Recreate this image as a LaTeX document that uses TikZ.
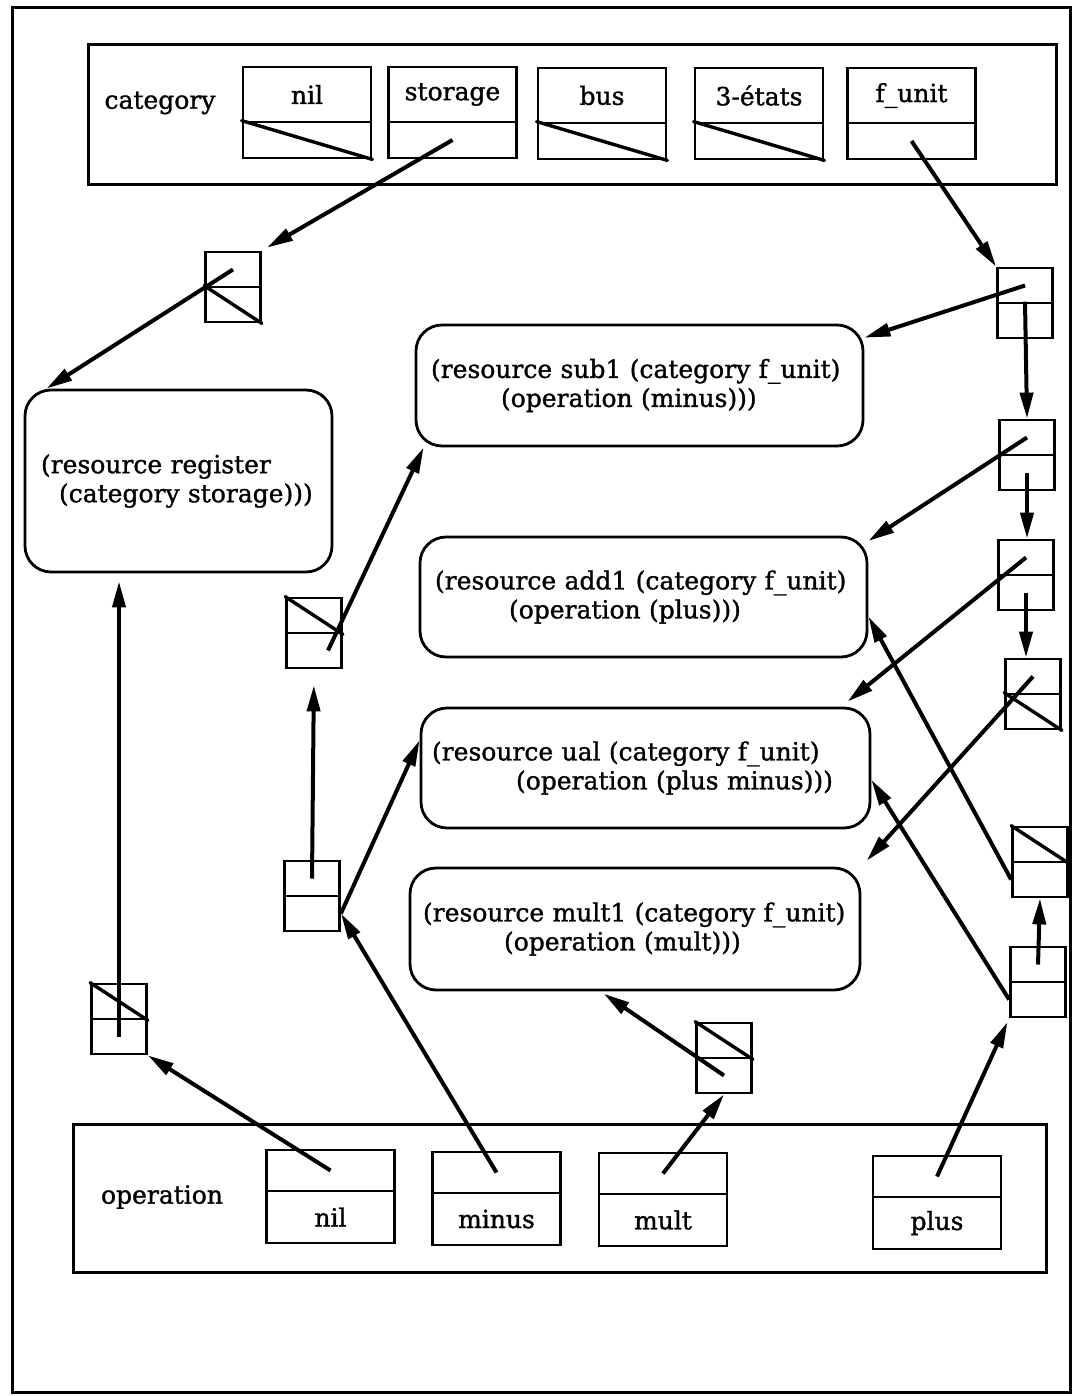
\documentclass[tikz,border=0pt]{standalone}
\usepackage{fontspec}
\setmainfont{DejaVu Serif}[BoldFont={DejaVu Serif}, BoldFeatures={FakeBold=1.2}]
\usetikzlibrary{arrows.meta}

\begin{document}
\begin{tikzpicture}[
    x=1pt, y=-1pt,
    every node/.style={font=\fontsize{25}{29}\selectfont\bfseries},
    frame/.style={draw, line width=3pt, inner sep=0pt},
    bighalf/.style={draw, line width=2.8pt, minimum width=128pt, inner sep=0pt},
    smallhalf/.style={draw, line width=2.8pt, minimum width=55pt, minimum height=35pt, inner sep=0pt},
    resource/.style={draw, line width=2.8pt, rounded corners=26pt, align=left,
        inner xsep=15pt, inner ysep=0pt},
    ptr/.style={-{Triangle[length=26pt,width=13pt]}, line width=4pt},
    slash/.style={line width=3.4pt, line cap=round}
]
    \useasboundingbox (0,0) rectangle (1074,1396);
    \draw[frame] (12,8) rectangle (1070,1392);

    % category table
    \node[frame, minimum width=968pt, minimum height=140pt] (catbox) at (572,115) {};
    \node (catlab) at (160,103) {category};
    \foreach \n/\x/\y/\lab in {cnil/307/67/nil, csto/452.5/67/storage, cbus/602/68/bus,
                              ceta/759/68/3-états, cfun/911.5/68/f\_unit} {
        \node[bighalf, minimum height=55pt] (\n-t) at (\x,\y+27.5) {\lab};
        \node[bighalf, minimum height=36pt] (\n-b) at (\x,\y+73) {};
    }

    % operation table
    \node[frame, minimum width=973pt, minimum height=148pt] (opbox) at (559.5,1198) {};
    \node (oplab) at (162,1197) {operation};
    \foreach \n/\x/\y/\lab in {onil/330.5/1150/nil, ominus/496.5/1152/minus,
                              omult/663/1153/mult, oplus/937/1156/plus} {
        \node[bighalf, minimum height=41pt] (\n-t) at (\x,\y+20.5) {};
        \node[bighalf, minimum height=52pt] (\n-b) at (\x,\y+67) {\lab};
    }

    % list cells
    \foreach \n/\x/\y in {rA/233/252, f1/1025/268, f2/1027/420, f3/1026/540, f4/1033/659,
                          p2/1040/827, p1/1038/947, m2/314/598, m1/312/861,
                          n1/119/984, x1/724/1023} {
        \node[smallhalf] (\n-t) at (\x,\y+17.5) {};
        \node[smallhalf] (\n-b) at (\x,\y+52.5) {};
    }
    \foreach \c in {cnil-b, cbus-b, ceta-b, rA-b, f4-b, p2-t, m2-t, n1-t, x1-t}
        \draw[slash] (\c.north west) -- (\c.south east);

    % resources
    \node[resource, inner xsep=16pt, text width=275pt, minimum height=182pt] (reg) at (178.5,481)
        {\mbox{(resource register}\\\hspace*{18pt}\mbox{(category storage)))}};
    \node[resource, text width=417pt, minimum height=121pt] (sub1) at (639.5,385.5)
        {\mbox{(resource sub1 (category f\_unit)}\\\hspace*{70pt}(operation (minus)))};
    \node[resource, text width=417pt, minimum height=120pt] (add1) at (643.5,597)
        {\mbox{(resource add1 (category f\_unit)}\\\hspace*{74pt}(operation (plus)))};
    \node[resource, inner xsep=11pt, text width=427pt, minimum height=120pt] (ual) at (645.5,768)
        {\mbox{(resource ual (category f\_unit)}\\\hspace*{84pt}\mbox{(operation (plus minus)))}};
    \node[resource, inner xsep=13pt, text width=424pt, minimum height=122pt] (mult1) at (635,929)
        {\mbox{(resource mult1 (category f\_unit)}\\\hspace*{81pt}(operation (mult)))};

    % pointers
    \draw[ptr, shorten >=6pt] (csto-b.center) -- (rA-t.north east);
    \draw[ptr] (rA-t.center) -- (reg.145);
    \draw[ptr] (cfun-b.center) -- (f1-t.north west);
    \draw[ptr] (f1-t.center) -- (sub1.12);
    \draw[ptr] (f1-b.north) -- (f2-t.north);
    \draw[ptr] (f2-t.center) -- (add1.14);
    \draw[ptr] (f2-b.center) -- (f2-b.center |- f3-t.north);
    \draw[ptr, shorten >=8pt] (f3-t.center) -- ([xshift=-30pt]ual.north east);
    \draw[ptr] (f3-b.center) -- (f3-b.center |- f4-t.north);
    \draw[ptr, shorten >=8pt] (f4-t.center) -- (mult1.north east);
    \draw[ptr, shorten >=4pt] (oplus-t.center) -- (p1-b.south west);
    \draw[ptr] (p1-t.center) -- (p2-b.south);
    \draw[ptr] (p1-b.west) -- (ual.-3);
    \draw[ptr] (p2-b.west) -- (add1.-5);
    \draw[ptr] (ominus-t.center) -- (m1-b.east);
    \draw[ptr] (m1-b.east) -- (ual.173);
    \draw[ptr, shorten >=16pt] (m1-t.center) -- (m2-b.south);
    \draw[ptr] ([xshift=14pt]m2-b.center) -- (sub1.196);
    \draw[ptr] (onil-t.center) -- (n1-b.south east);
    \draw[ptr, shorten >=8pt] (n1-b.center) -- (n1-b.center |- reg.south);
    \draw[ptr] (omult-t.center) -- (x1-b.south);
    \draw[ptr, shorten >=4pt] (x1-b.center) -- (mult1.241);
\end{tikzpicture}
\end{document}
